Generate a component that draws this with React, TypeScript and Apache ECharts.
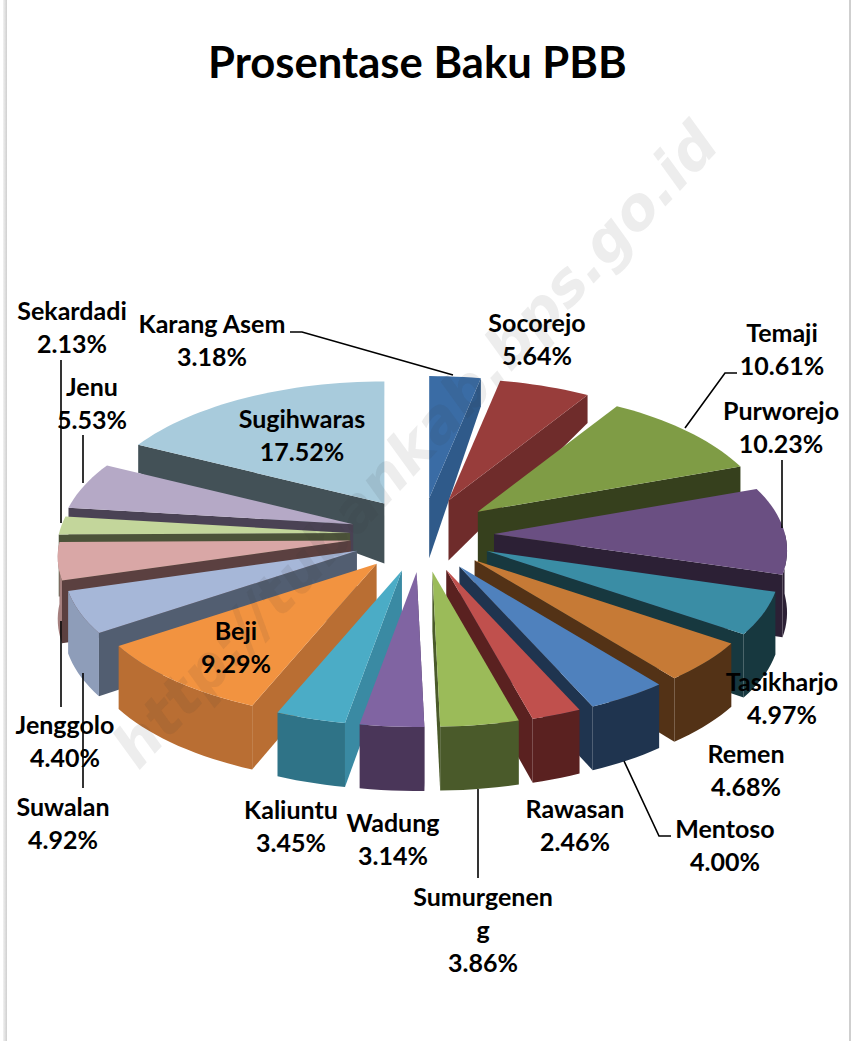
import React, { useEffect, useRef } from "react";
import * as echarts from "echarts";

const TITLE = "Prosentase Baku PBB";
const WATERMARK = "http://tubankab.bps.go.id";

const names = ["Karang Asem","Socorejo","Temaji","Purworejo","Tasikharjo","Remen","Mentoso","Rawasan","Sumurgeneng","Wadung","Kaliuntu","Beji","Suwalan","Jenggolo","Sekardadi","Jenu","Sugihwaras"];
const percents = [3.18,5.64,10.61,10.23,4.97,4.68,4.0,2.46,3.86,3.14,3.45,9.29,4.92,4.4,2.13,5.53,17.52];
const topColors = ["#3A6CA5","#983D3B","#7F9C45","#6A4F82","#3A8DA5","#C67A36","#4F81BD","#C0504D","#9BBB59","#8064A2","#4BACC6","#F29340","#A6B7D8","#D9A7A6","#C3D69B","#B5A9C6","#A8CBDC"];
const faceColors = ["#2F5A8A","#6F2C2B","#36401D","#2C2035","#17383F","#533216","#1F344F","#5A2120","#4A5A2A","#4A3659","#3A8AA3","#B96E33","#525E71","#5B4040","#4C5339","#4A4254","#435157"];
const rimColors = ["#2F5A8A","#6F2C2B","#36401D","#2C2035","#17383F","#533216","#1F344F","#5A2120","#4A5A2A","#4A3659","#2F7387","#B96E33","#8E9DB9","#A57F7E","#4C5339","#4A4254","#435157"];

// chart-wide projection settings
const CX = 422, CY = 535, EXPLODE_X = 72, EXPLODE_Y = 37;
const RX = 291, RY = 136.6, PERSPECTIVE = 0.119;

// label layout: [centre x, first-line y], same order as names
const labelPos: number[][] = [[212,323],[537,322],[782,332],[781,410],[782,681],[746,753],[725,828],[575,808],[483,896],[393,822],[291,809],[236,630],[63,806],[65,724],[72,310],[92,386],[302,418]];
const leaders: number[][][] = [
  [[290,332],[302,332],[453,375]],
  [[737,373],[725,373],[685,428]],
  [[782,460],[782,528]],
  [[61,360],[61,523]],
  [[83,435],[83,483]],
  [[61,621],[61,707]],
  [[83,673],[83,788]],
  [[478,789],[478,878]],
  [[624,761],[659,836],[671,836]],
];

const rad = (d: number) => (d * Math.PI) / 180;

const slices = (() => {
  let acc = 0;
  const total = percents.reduce((a, b) => a + b, 0);
  return percents.map((p, i) => {
    const a0 = (acc / total) * 360;
    acc += p;
    const a1 = (acc / total) * 360;
    return { i, a0, a1, mid: (a0 + a1) / 2 };
  });
})();
const drawOrder = [...slices].sort((a, b) => Math.cos(rad(b.mid)) - Math.cos(rad(a.mid)));

function wallHeight(deg: number) {
  const c = Math.cos(rad(deg));
  return c <= 0 ? 62 - 2 * c : 62 - 34 * Math.min(1, c / 0.45);
}

function renderSlice(_: any, api: any) {
  const idx = api.value(0);
  const s = slices[idx];
  const ax = CX + EXPLODE_X * Math.sin(rad(s.mid));
  const ay = CY - EXPLODE_Y * Math.cos(rad(s.mid));
  const rim = (deg: number) => {
    const k = 1 / (1 + PERSPECTIVE * Math.cos(rad(deg)));
    return [ax + RX * Math.sin(rad(deg)) * k, ay - RY * Math.cos(rad(deg)) * k];
  };
  const steps = Math.max(3, Math.ceil((s.a1 - s.a0) / 2));
  const angles: number[] = [];
  for (let j = 0; j <= steps; j++) angles.push(s.a0 + ((s.a1 - s.a0) * j) / steps);
  const topPts = [[ax, ay], ...angles.map(rim)];
  const children: any[] = [];
  // the radial side turned towards the viewer
  const faceDeg = s.mid < 180 ? s.a1 : s.a0;
  const c = rim(faceDeg);
  children.push({
    type: "polygon",
    shape: { points: [[ax, ay], c, [c[0], c[1] + wallHeight(faceDeg)], [ax, ay + 60]] },
    style: { fill: faceColors[idx] },
  });
  // the front of the rim
  const front = angles.filter((d) => Math.cos(rad(d)) < 0.02);
  if (front.length > 1) {
    const up = front.map(rim);
    const down = front.map((d) => { const p = rim(d); return [p[0], p[1] + wallHeight(d)]; }).reverse();
    children.push({ type: "polygon", shape: { points: [...up, ...down] }, style: { fill: rimColors[idx] } });
  }
  children.push({ type: "polygon", shape: { points: topPts }, style: { fill: topColors[idx] } });
  return { type: "group", children };
}

function renderLabel(_: any, api: any) {
  const idx = api.value(0);
  const [x, y] = labelPos[idx];
  const name = names[idx] === "Sumurgeneng" ? "Sumurgenen\ng" : names[idx];
  const lines = [...name.split("\n"), percents[idx].toFixed(2) + "%"];
  return {
    type: "group",
    children: lines.map((t, j) => ({
      type: "text",
      style: { text: t, x, y: y + j * 33, align: "center", verticalAlign: "middle", fill: "#000", font: "bold 25px Lato, sans-serif" },
    })),
  };
}

export default function App() {
  const ref = useRef<HTMLDivElement>(null);
  useEffect(() => {
    document.body.style.margin = "0";
    const chart = echarts.init(ref.current!, undefined, { renderer: "svg" });
    chart.setOption({
      animation: false,
      backgroundColor: "#fff",
      title: {
        text: TITLE, left: 203, top: 34,
        textStyle: { fontFamily: "Lato, sans-serif", fontWeight: "bold", fontSize: 43.6, color: "#000" },
      },
      series: [
        { type: "custom", coordinateSystem: "none", renderItem: renderSlice, data: drawOrder.map((s) => [s.i]), silent: true, z: 2 },
        { type: "custom", coordinateSystem: "none", renderItem: renderLabel, data: names.map((_, i) => [i]), silent: true, z: 4 },
      ],
      graphic: [
        { type: "rect", z: 1, shape: { x: 3, y: 0, width: 4, height: 1041 }, style: { fill: { type: "linear", x: 0, y: 0, x2: 1, y2: 0, colorStops: [{ offset: 0, color: "#F2F2F2" }, { offset: 1, color: "#CFCFCF" }] } } },
        { type: "rect", z: 1, shape: { x: 849, y: 0, width: 2, height: 1041 }, style: { fill: "#CFCFCF" } },
        ...leaders.map((pts) => ({ type: "polyline", z: 3, shape: { points: pts }, style: { stroke: "#000", lineWidth: 1.6, fill: "none" } })),
        { type: "text", z: 10, x: 415, y: 445, rotation: rad(47), style: { text: WATERMARK, align: "center", verticalAlign: "middle", fill: "rgba(60,60,60,0.09)", font: "italic bold 59px 'DejaVu Sans', sans-serif" } },
      ],
    });
    return () => chart.dispose();
  }, []);
  return <div ref={ref} style={{ width: 851, height: 1041 }} />;
}
